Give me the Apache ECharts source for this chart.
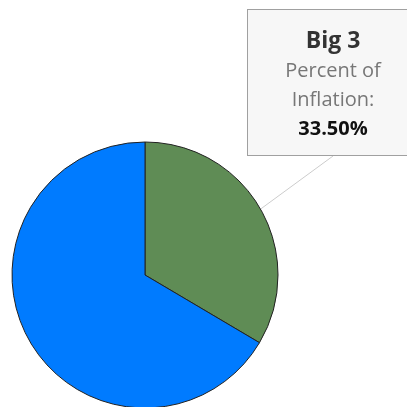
<!DOCTYPE html>
<html>
<head>
<meta charset="utf-8">
<script src="https://cdn.jsdelivr.net/npm/echarts@6/dist/echarts.min.js"></script>
<style>
  html, body { margin: 0; padding: 0; background: #fff; }
  #chart { width: 407px; height: 407px; }
</style>
</head>
<body>
<div id="chart"></div>
<script>
const categories = ['Big 3', 'Other'];
const percents = [33.5, 66.5];
const colors = ['#5f8c55', '#007bff'];
const labelLines = ['Percent of', 'Inflation:'];

const chart = echarts.init(document.getElementById('chart'));

const data = categories.map((name, i) => ({
  name,
  value: percents[i],
  itemStyle: { color: colors[i] },
  label: { show: i === 0 },
  labelLine: { show: i === 0 }
}));

const option = {
  animation: false,
  series: [
    {
      type: 'pie',
      center: [145, 275],
      radius: 133,
      startAngle: 90,
      clockwise: true,
      itemStyle: { borderColor: '#222', borderWidth: 1 },
      emphasis: { disabled: true },
      data,
      label: {
        position: 'outside',
        overflow: 'none',
        width: 96,
        fontFamily: 'Open Sans',
        backgroundColor: '#f7f7f7',
        borderColor: '#a0a0a0',
        borderWidth: 1,
        padding: [15, 37, 12, 37],
        align: 'center',
        formatter: p =>
          `{t|${p.name}}\n` +
          labelLines.map(s => `{s|${s}}`).join('\n') +
          `\n{v|${p.value.toFixed(2)}%}`,
        rich: {
          t: { fontSize: 23, fontWeight: 'bold', color: '#333', lineHeight: 32, fontFamily: 'Open Sans', align: 'center' },
          s: { fontSize: 20, color: '#777', lineHeight: 29, fontFamily: 'Open Sans', align: 'center' },
          v: { fontSize: 20, fontWeight: 'bold', color: '#111', lineHeight: 28, fontFamily: 'Open Sans', align: 'center' }
        }
      },
      labelLine: {
        length: 20,
        length2: 0,
        lineStyle: { color: '#cccccc', width: 1 }
      },
      labelLayout: {
        x: 333,
        y: 10,
        align: 'center',
        verticalAlign: 'top'
      }
    }
  ]
};

chart.setOption(option);
</script>
</body>
</html>
